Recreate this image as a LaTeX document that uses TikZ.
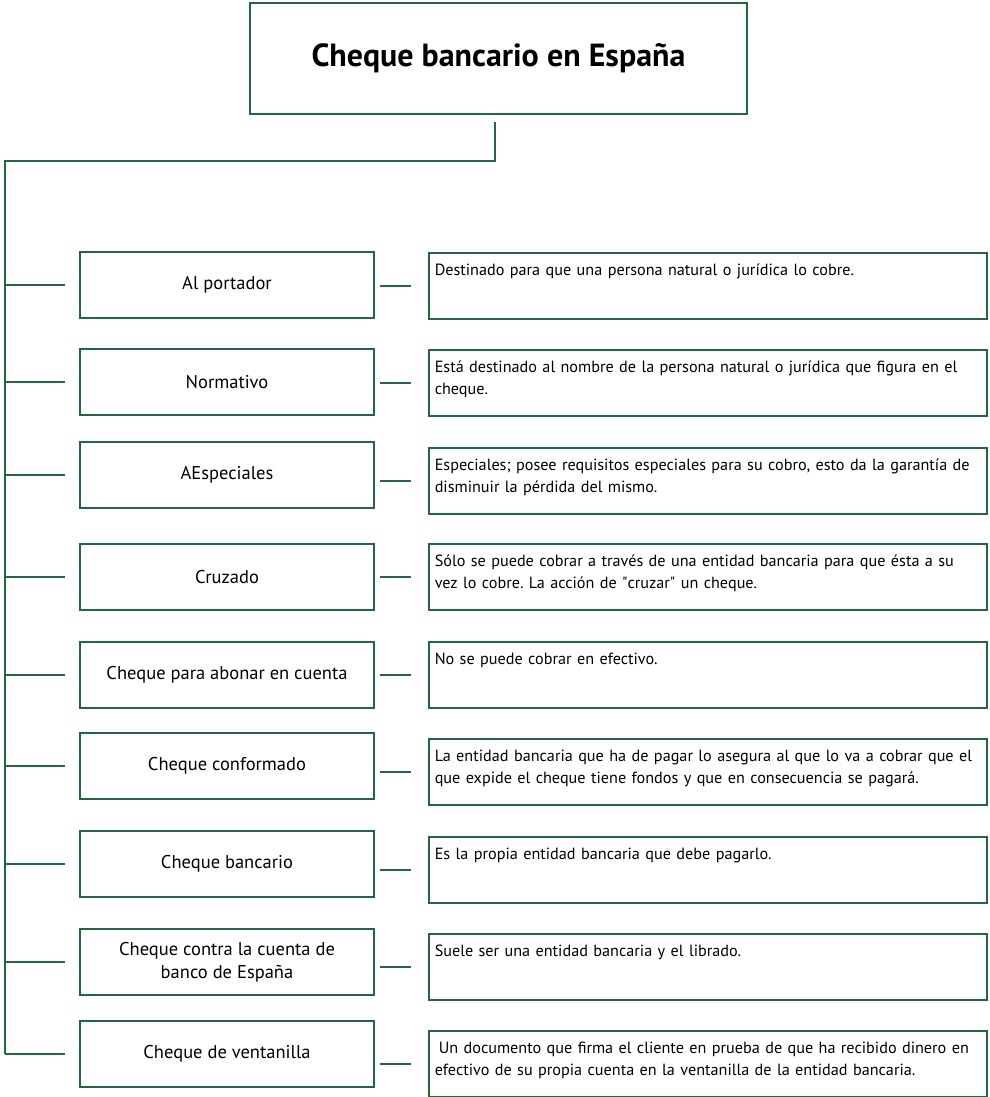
\documentclass[tikz,border=0pt]{standalone}
\usepackage{fontspec}
\setmainfont{PT Sans}
\usepackage{xcolor}
\usepackage{tikz}
\frenchspacing

\definecolor{chqgreen}{RGB}{34,104,60}

\begin{document}
    \begin{tikzpicture}[x = 1pt, y = -1pt, line width = 1.5pt,
        heading/.style = {draw = chqgreen, minimum width = 497pt, minimum height = 111pt,
            font = \fontsize{32}{36}\selectfont\bfseries},
        kind/.style = {draw = chqgreen, minimum width = 294pt, minimum height = 66pt,
            inner sep = 0pt, align = center, font = \fontsize{18.5}{23}\selectfont},
        meaning/.style = {draw = chqgreen, anchor = north west, text width = 546pt,
            inner xsep = 6pt, inner ysep = 0pt, text height = 23pt, text depth = 43pt,
            align = left, font = \fontsize{16.2}{21.5}\selectfont},
        link/.style = {draw = chqgreen}]
        \useasboundingbox (0, 0) rectangle (989, 1097);

        \node[heading] (title) at (498.5, 58.5) {Cheque bancario en España};
        \coordinate (top) at (5, 161);

        \node[kind] (portador) at (227, 285) {Al portador};
        \node[kind] (normativo) at (227, 382) {Normativo};
        \node[kind] (especiales) at (227, 475) {AEspeciales};
        \node[kind] (cruzado) at (227, 577) {Cruzado};
        \node[kind] (abonar) at (227, 675) {Cheque para abonar en cuenta};
        \node[kind] (conformado) at (227, 766) {Cheque conformado};
        \node[kind] (bancario) at (227, 864) {Cheque bancario};
        \node[kind] (contra) at (227, 962) {Cheque contra la cuenta de\\banco de España};
        \node[kind] (ventanilla) at (227, 1054) {Cheque de ventanilla};

        \node[meaning] (portadorD) at (428, 252) {Destinado para que una persona natural o jurídica lo cobre.};
        \node[meaning] (normativoD) at (428, 349) {Está destinado al nombre de la persona natural o jurídica que figura en el\\cheque.};
        \node[meaning] (especialesD) at (428, 447) {Especiales; posee requisitos especiales para su cobro, esto da la garantía de\\disminuir la pérdida del mismo.};
        \node[meaning] (cruzadoD) at (428, 543) {Sólo se puede cobrar a través de una entidad bancaria para que ésta a su\\vez lo cobre. La acción de \textquotedbl cruzar\textquotedbl{} un cheque.};
        \node[meaning] (abonarD) at (428, 641) {No se puede cobrar en efectivo.};
        \node[meaning] (conformadoD) at (428, 738) {La entidad bancaria que ha de pagar lo asegura al que lo va a cobrar que el\\que expide el cheque tiene fondos y que en consecuencia se pagará.};
        \node[meaning] (bancarioD) at (428, 836) {Es la propia entidad bancaria que debe pagarlo.};
        \node[meaning] (contraD) at (428, 933) {Suele ser una entidad bancaria y el librado.};
        \node[meaning] (ventanillaD) at (428, 1030) {\hspace{0.25em}Un documento que firma el cliente en prueba de que ha recibido dinero en\\efectivo de su propia cuenta en la ventanilla de la entidad bancaria.};

        \draw[link] ([xshift = -3.5pt, yshift = -7pt]title.south) |- (top) -- (top |- ventanilla);

        \draw[link] (top |- portador) -- ([xshift = -14pt]portador.west);
        \draw[link] (top |- normativo) -- ([xshift = -14pt]normativo.west);
        \draw[link] (top |- especiales) -- ([xshift = -14pt]especiales.west);
        \draw[link] (top |- cruzado) -- ([xshift = -14pt]cruzado.west);
        \draw[link] (top |- abonar) -- ([xshift = -14pt]abonar.west);
        \draw[link] (top |- conformado) -- ([xshift = -14pt]conformado.west);
        \draw[link] (top |- bancario) -- ([xshift = -14pt]bancario.west);
        \draw[link] (top |- contra) -- ([xshift = -14pt]contra.west);
        \draw[link] (top |- ventanilla) -- ([xshift = -14pt]ventanilla.west);

        \draw[link] ([xshift = -48pt]portadorD.west) -- ([xshift = -17pt]portadorD.west);
        \draw[link] ([xshift = -48pt]normativoD.west) -- ([xshift = -17pt]normativoD.west);
        \draw[link] ([xshift = -48pt]especialesD.west) -- ([xshift = -17pt]especialesD.west);
        \draw[link] ([xshift = -48pt]cruzadoD.west) -- ([xshift = -17pt]cruzadoD.west);
        \draw[link] ([xshift = -48pt]abonarD.west) -- ([xshift = -17pt]abonarD.west);
        \draw[link] ([xshift = -48pt]conformadoD.west) -- ([xshift = -17pt]conformadoD.west);
        \draw[link] ([xshift = -48pt]bancarioD.west) -- ([xshift = -17pt]bancarioD.west);
        \draw[link] ([xshift = -48pt]contraD.west) -- ([xshift = -17pt]contraD.west);
        \draw[link] ([xshift = -48pt]ventanillaD.west) -- ([xshift = -17pt]ventanillaD.west);
    \end{tikzpicture}
\end{document}
